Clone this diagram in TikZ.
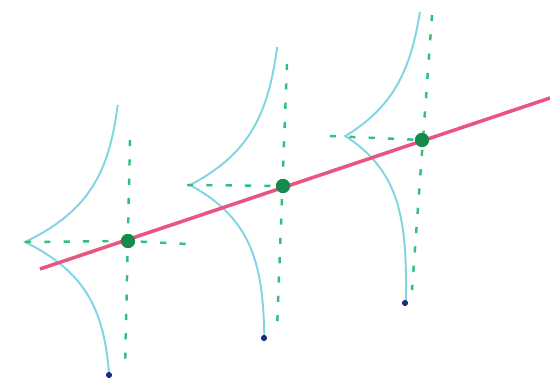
\documentclass[tikz,border=0pt]{standalone}
\usetikzlibrary{positioning}
\definecolor{curvecol}{HTML}{80D4E4}
\definecolor{guidecol}{HTML}{30C078}
\definecolor{fitcol}{HTML}{E8557F}
\definecolor{obscol}{HTML}{168A4C}
\definecolor{tailcol}{HTML}{1C2C80}
\begin{document}
\begin{tikzpicture}[x=0.02cm, y=-0.02cm,
  dens/.style={draw=curvecol, line width=1.1pt},
  guide/.style={draw=guidecol, line width=1.4pt, dash pattern=on 3.5pt off 7.5pt},
  fitline/.style={draw=fitcol, line width=2pt},
  obs/.style={circle, fill=obscol, inner sep=0pt, minimum size=8pt},
  tail/.style={circle, fill=tailcol, inner sep=0pt, minimum size=3.5pt}
]
\useasboundingbox (0,0) rectangle (550,379);

% density curves lying on their side
\draw[dens] plot[domain=-137:133, samples=271]
  ({118-0.03*\x-93*exp(-abs(\x)/45)}, {242+\x});
\draw[dens] plot[domain=-138:153, samples=292]
  ({274.5-0.048*\x-84.5*exp(-abs(\x)/45)}, {185+\x});
\draw[dens] plot[domain=-124:167, samples=292]
  ({417.3-0.058*\x-72*exp(-abs(\x)/45)}, {136+\x});

\coordinate (peak1) at (25,242);
\coordinate (peak2) at (190,185);
\coordinate (peak3) at (345,136);
\coordinate (h1end) at (187,244);
\coordinate (h2start) at (187,185);
\coordinate (h3start) at (330,136);
\coordinate (v1top) at (130,140);
\coordinate (v1bot) at (125,370);
\coordinate (v2top) at (287,64);
\coordinate (v2bot) at (277,330);
\coordinate (v3top) at (432,15);
\coordinate (v3bot) at (412,290);
\coordinate (lstart) at (40,269);
\coordinate (lend) at (550,98);

\node[obs] (p1) at (128,241) {};
\node[obs] (p2) at (283,186) {};
\node[obs] (p3) at (422,140) {};

\draw[guide] (peak1) -- (p1.center) -- (h1end);
\draw[guide] (h2start) -- (p2.center);
\draw[guide] (h3start) -- (p3.center);
\draw[guide] (v1top) -- (v1bot);
\draw[guide] (v2top) -- (v2bot);
\draw[guide] (v3top) -- (v3bot);

\draw[fitline] (lstart) -- (lend);

\node[obs] at (p1) {};
\node[obs] at (p2) {};
\node[obs] at (p3) {};
\node[tail] (t1) at (109,375) {};
\node[tail] (t2) at (264,338) {};
\node[tail] (t3) at (405,303) {};
\end{tikzpicture}
\end{document}
